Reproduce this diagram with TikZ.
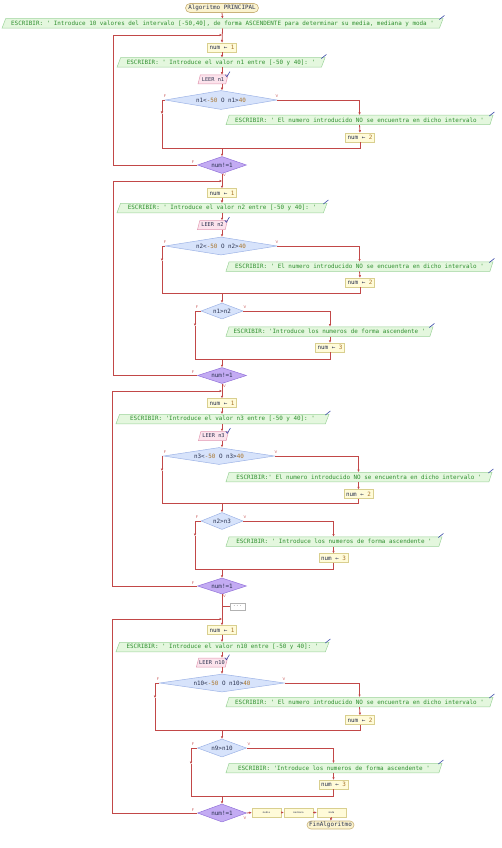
\documentclass[tikz,border=0pt]{standalone}
\usepackage{fontspec}
\setmonofont{DejaVu Sans Mono}
\usepackage{xcolor}
\usepackage{tikz}
\usetikzlibrary{shapes.geometric, arrows.meta, calc}
\definecolor{flowRed}{HTML}{C24848}
\definecolor{escFill}{HTML}{E4F7DE}
\definecolor{escDraw}{HTML}{9CD39A}
\definecolor{escText}{HTML}{2F8F2F}
\definecolor{asgFill}{HTML}{FFFBD9}
\definecolor{asgDraw}{HTML}{D9CF8F}
\definecolor{leerFill}{HTML}{FCE3EC}
\definecolor{leerDraw}{HTML}{E29AB2}
\definecolor{condFill}{HTML}{D7E3FB}
\definecolor{condDraw}{HTML}{9DB3E6}
\definecolor{repFill}{HTML}{C3ABF3}
\definecolor{repDraw}{HTML}{9373DA}
\definecolor{iniFill}{HTML}{FBF3CF}
\definecolor{iniDraw}{HTML}{C9B27A}
\definecolor{darkInk}{HTML}{2B3350}
\definecolor{numBrown}{HTML}{A8742A}
\definecolor{iconBlue}{HTML}{3A4AA8}
\newcommand{\numv}[1]{\textcolor{numBrown}{#1}}
\tikzset{
    box_escribir/.style={
        trapezium, trapezium left angle=65, trapezium right angle=115, trapezium stretches body,
        draw=escDraw, fill=escFill, text=escText, line width=0.5pt,
        minimum height=9.5pt, inner sep=1pt,
        font=\ttfamily\fontsize{5.9}{7}\selectfont
    },
    box_leer/.style={
        trapezium, trapezium left angle=65, trapezium right angle=115, trapezium stretches body,
        draw=leerDraw, fill=leerFill, text=darkInk, line width=0.5pt,
        minimum width=30pt, minimum height=9pt, inner sep=0.5pt,
        font=\ttfamily\fontsize{5.3}{7}\selectfont
    },
    box_asignar/.style={
        rectangle, draw=asgDraw, fill=asgFill, text=darkInk, line width=0.5pt,
        minimum width=29pt, minimum height=9pt, inner sep=1pt,
        font=\ttfamily\fontsize{5.9}{7}\selectfont
    },
    box_calc/.style={
        box_asignar, font=\ttfamily\fontsize{2.4}{3}\selectfont
    },
    box_inicio/.style={
        rectangle, rounded corners=4.5pt, draw=iniDraw, fill=iniFill, text=darkInk,
        line width=0.6pt, minimum height=9pt, inner sep=1pt,
        font=\ttfamily\fontsize{5.9}{7}\selectfont
    },
    box_dots/.style={
        rectangle, draw=gray!60, fill=white, text=gray, line width=0.5pt,
        minimum width=15pt, minimum height=7pt, inner sep=0.5pt,
        font=\ttfamily\fontsize{5}{6}\selectfont
    },
    dia_cond/.style={
        diamond, aspect=6, draw=condDraw, fill=condFill, text=darkInk, line width=0.5pt,
        inner sep=0pt, font=\ttfamily\fontsize{5.9}{7}\selectfont
    },
    dia_repetir/.style={
        diamond, aspect=3, draw=repDraw, fill=repFill, text=darkInk, line width=0.5pt,
        minimum width=49pt, inner sep=0pt, font=\ttfamily\fontsize{5.9}{7}\selectfont
    },
    flow_line/.style={draw=flowRed, line width=0.8pt},
    flow_arrow/.style={flow_line, -{Latex[length=2.5pt,width=2.5pt]}},
    lbl_fv/.style={font=\sffamily\fontsize{3.8}{4}\selectfont, text=flowRed, inner sep=0pt},
    icon_mark/.style={draw=iconBlue, line width=0.6pt, line cap=round}
}

\begin{document}
\begin{tikzpicture}[x=1pt, y=-1pt]
    \useasboundingbox (0,0) rectangle (501,848);

    % Start and intro message
    \node[box_inicio, minimum width=73pt] (ini) at (222,8) {Algoritmo PRINCIPAL};
    \node[box_escribir, minimum width=441pt] (esc0) at (222.5,23.5) {ESCRIBIR: ' Introduce 10 valores del intervalo [-50,40], de forma ASCENDENTE para determinar su media, mediana y moda '};

    % Block n1
    \node[box_asignar] (asgA1) at (222,47.5) {num ← \numv{1}};
    \node[box_escribir, minimum width=208pt] (escA) at (221,62.5) {ESCRIBIR: ' Introduce el valor n1 entre [-50 y 40]: '};
    \node[box_leer] (leerA) at (213,79.5) {LEER n1};
    \node[dia_cond, minimum width=112pt, minimum height=19pt] (condA) at (221,100) {n1<\numv{-50} O n1>\numv{40}};
    \node[box_escribir, minimum width=267pt] (errA) at (359.5,120) {ESCRIBIR: ' El numero introducido NO se encuentra en dicho intervalo '};
    \node[box_asignar] (asgA2) at (360,137.5) {num ← \numv{2}};
    \node[dia_repetir, minimum height=17pt] (repA) at (222,165) {num!=1};

    % Block n2
    \node[box_asignar] (asgB1) at (222,193) {num ← \numv{1}};
    \node[box_escribir, minimum width=210pt] (escB) at (222,208) {ESCRIBIR: ' Introduce el valor n2 entre [-50 y 40]: '};
    \node[box_leer] (leerB) at (212.5,225) {LEER n2};
    \node[dia_cond, minimum width=112pt, minimum height=18pt] (condB) at (221,246) {n2<\numv{-50} O n2>\numv{40}};
    \node[box_escribir, minimum width=267pt] (errB) at (359.5,266.5) {ESCRIBIR: ' El numero introducido NO se encuentra en dicho intervalo '};
    \node[box_asignar] (asgB2) at (360,282.5) {num ← \numv{2}};
    \node[dia_cond, aspect=2.5, minimum width=42pt, minimum height=16pt] (cmpB) at (222,311) {n1>n2};
    \node[box_escribir, minimum width=207pt] (ascB) at (329.5,331.5) {ESCRIBIR: 'Introduce los numeros de forma ascendente '};
    \node[box_asignar] (asgB3) at (330,347.5) {num ← \numv{3}};
    \node[dia_repetir, minimum height=16pt] (repB) at (222,375.5) {num!=1};

    % Block n3
    \node[box_asignar] (asgC1) at (222,403) {num ← \numv{1}};
    \node[box_escribir, minimum width=213pt] (escC) at (222.5,419) {ESCRIBIR: 'Introduce el valor n3 entre [-50 y 40]: '};
    \node[box_leer] (leerC) at (213.5,436) {LEER n3};
    \node[dia_cond, minimum width=111pt, minimum height=17pt] (condC) at (219,456) {n3<\numv{-50} O n3>\numv{40}};
    \node[box_escribir, minimum width=266pt] (errC) at (359,477) {ESCRIBIR:' El numero introducido NO se encuentra en dicho intervalo '};
    \node[box_asignar] (asgC2) at (358.5,494) {num ← \numv{2}};
    \node[dia_cond, aspect=2.5, minimum width=42pt, minimum height=17pt] (cmpC) at (222,521) {n2>n3};
    \node[box_escribir, minimum width=216pt] (ascC) at (334,541.5) {ESCRIBIR: ' Introduce los numeros de forma ascendente '};
    \node[box_asignar] (asgC3) at (333.5,558) {num ← \numv{3}};
    \node[dia_repetir, minimum height=16pt] (repC) at (222,586) {num!=1};
    \node[box_dots] (dots) at (237.5,606.5) {...};

    % Block n10
    \node[box_asignar] (asgD1) at (222,630) {num ← \numv{1}};
    \node[box_escribir, minimum width=213pt] (escD) at (222.5,647) {ESCRIBIR: ' Introduce el valor n10 entre [-50 y 40]: '};
    \node[box_leer] (leerD) at (212,662.5) {LEER n10};
    \node[dia_cond, minimum width=125pt, minimum height=18pt] (condD) at (222,683) {n10<\numv{-50} O n10>\numv{40}};
    \node[box_escribir, minimum width=267pt] (errD) at (359.5,702) {ESCRIBIR: ' El numero introducido NO se encuentra en dicho intervalo '};
    \node[box_asignar] (asgD2) at (360,720) {num ← \numv{2}};
    \node[dia_cond, aspect=2.5, minimum width=49pt, minimum height=18pt] (cmpD) at (222,748) {n9>n10};
    \node[box_escribir, minimum width=216pt] (ascD) at (334,768) {ESCRIBIR: 'Introduce los numeros de forma ascendente '};
    \node[box_asignar] (asgD3) at (333.5,784.5) {num ← \numv{3}};
    \node[dia_repetir, minimum height=18pt] (repD) at (222,813) {num!=1};

    % Results and end
    \node[box_calc] (media) at (266.5,812.5) {media};
    \node[box_calc] (mediana) at (298.5,812.5) {mediana};
    \node[box_calc] (moda) at (331.5,812.5) {moda};
    \node[box_inicio, minimum width=47pt, minimum height=8pt, rounded corners=4pt] (fin) at (330.5,825) {FinAlgoritmo};

    % Join and corner points
    \coordinate (topA) at (222,35);   \coordinate (lpA) at (113,35);
    \coordinate (fmA) at (162,114);   \coordinate (jnA) at (222,148);
    \coordinate (topB) at (222,181);  \coordinate (lpB) at (113,181);
    \coordinate (fmB) at (162,261);   \coordinate (jnB1) at (222,293.5);
    \coordinate (fmB2) at (195,326);  \coordinate (jnB2) at (222,359);
    \coordinate (topC) at (222,391);  \coordinate (lpC) at (112,391);
    \coordinate (fmC) at (162,471);   \coordinate (jnC1) at (222,503.5);
    \coordinate (fmC2) at (195,536);  \coordinate (jnC2) at (222,569);
    \coordinate (dotsJ) at (222,606.5);
    \coordinate (topD) at (222,619);  \coordinate (lpD) at (112,619);
    \coordinate (fmD) at (155,698);   \coordinate (jnD1) at (222,730);
    \coordinate (fmD2) at (191,764);  \coordinate (jnD2) at (222,796);

    % Main flow into block n1
    \draw[flow_arrow] (ini.south) -- (esc0.north);
    \draw[flow_arrow] (esc0.south) -- (asgA1.north);
    \draw[flow_arrow] (asgA1.south) -- (escA.north -| asgA1);
    \draw[flow_arrow] (escA.south -| asgA1) -- (leerA.north -| asgA1);
    \draw[flow_arrow] (leerA.south -| asgA1) -- (condA.north -| asgA1);
    \draw[flow_arrow] (condA.west) -| (fmA);
    \draw[flow_line] (fmA) |- (jnA);
    \draw[flow_arrow] (condA.east) -| (errA.north);
    \draw[flow_arrow] (errA.south) -- (asgA2.north);
    \draw[flow_line] (asgA2.south) |- (jnA);
    \draw[flow_arrow] (jnA) -- (repA.north);
    \draw[flow_arrow] (repA.west) -| (lpA) -- (topA);

    % Block n2
    \draw[flow_arrow] (repA.south) -- (asgB1.north);
    \draw[flow_arrow] (asgB1.south) -- (escB.north -| asgB1);
    \draw[flow_arrow] (escB.south -| asgB1) -- (leerB.north -| asgB1);
    \draw[flow_arrow] (leerB.south -| asgB1) -- (condB.north -| asgB1);
    \draw[flow_arrow] (condB.west) -| (fmB);
    \draw[flow_line] (fmB) |- (jnB1);
    \draw[flow_arrow] (condB.east) -| (errB.north);
    \draw[flow_arrow] (errB.south) -- (asgB2.north);
    \draw[flow_line] (asgB2.south) |- (jnB1);
    \draw[flow_arrow] (jnB1) -- (cmpB.north);
    \draw[flow_arrow] (cmpB.west) -| (fmB2);
    \draw[flow_line] (fmB2) |- (jnB2);
    \draw[flow_arrow] (cmpB.east) -| (ascB.north -| asgB3);
    \draw[flow_arrow] (ascB.south -| asgB3) -- (asgB3.north);
    \draw[flow_line] (asgB3.south) |- (jnB2);
    \draw[flow_arrow] (jnB2) -- (repB.north);
    \draw[flow_arrow] (repB.west) -| (lpB) -- (topB);

    % Block n3
    \draw[flow_arrow] (repB.south) -- (asgC1.north);
    \draw[flow_arrow] (asgC1.south) -- (escC.north -| asgC1);
    \draw[flow_arrow] (escC.south -| asgC1) -- (leerC.north -| asgC1);
    \draw[flow_arrow] (leerC.south -| asgC1) -- (condC.north -| asgC1);
    \draw[flow_arrow] (condC.west) -| (fmC);
    \draw[flow_line] (fmC) |- (jnC1);
    \draw[flow_arrow] (condC.east) -| (errC.north -| asgC2);
    \draw[flow_arrow] (errC.south -| asgC2) -- (asgC2.north);
    \draw[flow_line] (asgC2.south) |- (jnC1);
    \draw[flow_arrow] (jnC1) -- (cmpC.north);
    \draw[flow_arrow] (cmpC.west) -| (fmC2);
    \draw[flow_line] (fmC2) |- (jnC2);
    \draw[flow_arrow] (cmpC.east) -| (ascC.north -| asgC3);
    \draw[flow_arrow] (ascC.south -| asgC3) -- (asgC3.north);
    \draw[flow_line] (asgC3.south) |- (jnC2);
    \draw[flow_arrow] (jnC2) -- (repC.north);
    \draw[flow_arrow] (repC.west) -| (lpC) -- (topC);
    \draw[flow_line] (dotsJ) -- (dots.west);

    % Block n10
    \draw[flow_arrow] (repC.south) -- (asgD1.north);
    \draw[flow_arrow] (asgD1.south) -- (escD.north -| asgD1);
    \draw[flow_arrow] (escD.south -| asgD1) -- (leerD.north -| asgD1);
    \draw[flow_arrow] (leerD.south -| asgD1) -- (condD.north);
    \draw[flow_arrow] (condD.west) -| (fmD);
    \draw[flow_line] (fmD) |- (jnD1);
    \draw[flow_arrow] (condD.east) -| (errD.north);
    \draw[flow_arrow] (errD.south) -- (asgD2.north);
    \draw[flow_line] (asgD2.south) |- (jnD1);
    \draw[flow_arrow] (jnD1) -- (cmpD.north);
    \draw[flow_arrow] (cmpD.west) -| (fmD2);
    \draw[flow_line] (fmD2) |- (jnD2);
    \draw[flow_arrow] (cmpD.east) -| (ascD.north -| asgD3);
    \draw[flow_arrow] (ascD.south -| asgD3) -- (asgD3.north);
    \draw[flow_line] (asgD3.south) |- (jnD2);
    \draw[flow_arrow] (jnD2) -- (repD.north);
    \draw[flow_arrow] (repD.west) -| (lpD) -- (topD);

    % Results to end
    \draw[flow_arrow] (repD.east) -- (media.west);
    \draw[flow_arrow] (media.east) -- (mediana.west);
    \draw[flow_arrow] (mediana.east) -- (moda.west);
    \draw[flow_arrow] (moda.south) -- (fin.north);

    % F / V labels
    \node[lbl_fv] (fA) at (165,96.5) {F};   \node[lbl_fv] (vA) at (277,96.5) {V};
    \node[lbl_fv] (frA) at (193,162) {F};   \node[lbl_fv] (vrA) at (224.5,175.5) {V};
    \node[lbl_fv] (fB) at (165,242.5) {F};  \node[lbl_fv] (vB) at (277,242.5) {V};
    \node[lbl_fv] (fcB) at (197,307) {F};   \node[lbl_fv] (vcB) at (245,307) {V};
    \node[lbl_fv] (frB) at (193,372.5) {F}; \node[lbl_fv] (vrB) at (224.5,386) {V};
    \node[lbl_fv] (fC) at (165,452.5) {F};  \node[lbl_fv] (vC) at (276,452.5) {V};
    \node[lbl_fv] (fcC) at (197,517) {F};   \node[lbl_fv] (vcC) at (245,517) {V};
    \node[lbl_fv] (frC) at (193,583) {F};   \node[lbl_fv] (vrC) at (224.5,596.5) {V};
    \node[lbl_fv] (fD) at (158,679.5) {F};  \node[lbl_fv] (vD) at (284,679.5) {V};
    \node[lbl_fv] (fcD) at (193,744.5) {F}; \node[lbl_fv] (vcD) at (249,744.5) {V};
    \node[lbl_fv] (frD) at (193,810) {F};   \node[lbl_fv] (vrD) at (245,818) {V};

    % Pencil and check marks
    \foreach \n in {esc0,escA,errA,escB,errB,ascB,escC,errC,ascC,escD,errD,ascD}
        \draw[icon_mark] ([shift={(-4,1)}]\n.top right corner) -- ++(5,-4);
    \foreach \n in {leerA,leerB,leerC,leerD}
        \draw[icon_mark] ([shift={(-3,0)}]\n.top right corner) -- ++(1.5,2) -- ++(3,-5);
\end{tikzpicture}
\end{document}
